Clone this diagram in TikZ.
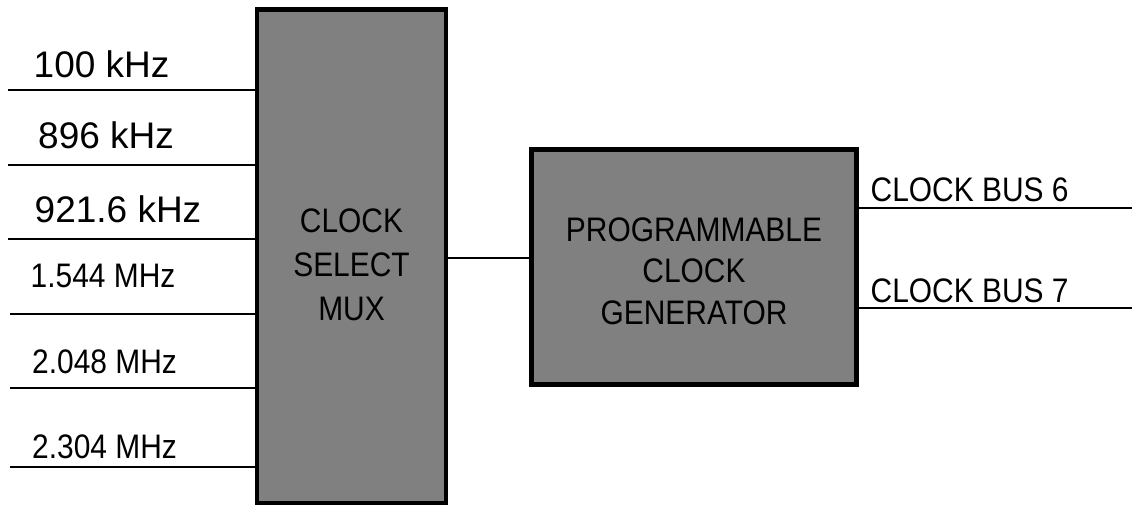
\documentclass[tikz,border=0pt]{standalone}
\usepackage{fontspec}
\setmainfont{Liberation Sans}
\newfontfamily\narrowsf{Liberation Sans}[FakeStretch=0.88]
\usepackage{tikz}

\definecolor{blockgray}{HTML}{808080}
\tikzset{
  block/.style={draw, line width=4.5pt, fill=blockgray, inner sep=0pt},
  wire/.style={line width=2pt},
  freq/.style={anchor=base west, inner sep=0pt, font=\fontsize{37}{40}\selectfont},
  freqn/.style={anchor=base west, inner sep=0pt, font=\narrowsf\fontsize{34}{40}\selectfont},
  blocktext/.style={align=center, inner sep=0pt, font=\narrowsf\fontsize{34}{#1}\selectfont}
}

\begin{document}
\begin{tikzpicture}[x=1pt,y=-1pt]
\useasboundingbox (0,0) rectangle (1132,506);
% blocks
\node [block, minimum width=189pt, minimum height=493.5pt] (mux) at (351.5,256) {};
\node [block, minimum width=325pt, minimum height=235pt] (gen) at (694,267) {};
\node [blocktext=44pt, yshift=-9pt] (muxtext) at (mux.center) {CLOCK\\SELECT\\MUX};
\node [blocktext=41.5pt, yshift=-4pt] (gentext) at (gen.center) {PROGRAMMABLE\\CLOCK\\GENERATOR};
% inputs
\foreach \i/\y/\b/\x/\t in {1/90/77/33.5/100 kHz, 2/165/148/38/896 kHz, 3/239/222/34.5/921.6 kHz} {
  \coordinate (in\i) at (8,\y);
  \draw [wire] (in\i) -- (in\i -| mux.west);
  \node [freq] (lab\i) at (\x,\b) {\t};
}
\foreach \i/\y/\b/\x/\t in {4/314/287/30.5/1.544 MHz, 5/388/373/32/2.048 MHz, 6/467/458/32/2.304 MHz} {
  \coordinate (in\i) at (10,\y);
  \draw [wire] (in\i) -- (in\i -| mux.west);
  \node [freqn] (lab\i) at (\x,\b) {\t};
}
% link
\coordinate (link) at (490,258);
\draw [wire] (mux.east |- link) -- (gen.west |- link);
% outputs
\foreach \i/\y/\b in {6/208/201, 7/308/302} {
  \coordinate (bus\i) at (1132,\y);
  \draw [wire] (gen.east |- bus\i) -- (bus\i);
  \node [freqn] (buslab\i) at (870.5,\b) {CLOCK BUS \i};
}
\end{tikzpicture}
\end{document}
